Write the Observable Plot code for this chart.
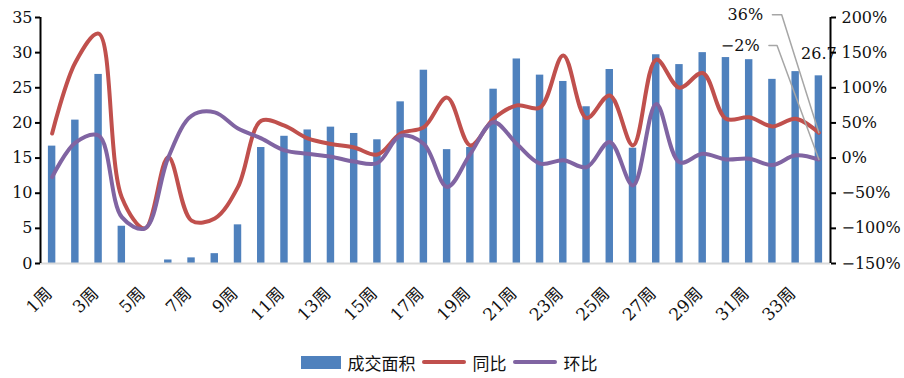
<!DOCTYPE html>
<html>
<head>
<meta charset="utf-8">
<script src="https://cdn.jsdelivr.net/npm/d3@7"></script>
<script src="https://cdn.jsdelivr.net/npm/@observablehq/plot@0.6"></script>
<style>
  body { margin: 0; background: #fff; }
  #chart svg { display: block; }
  .legend { display: flex; justify-content: center; align-items: center; margin-top: 17px; height: 20px;
    font-family: 'Noto Sans CJK SC', sans-serif; font-size: 17px; color: #111; }
  .legend .sw { display: inline-block; margin-right: 7px; }
  .legend .item { display: flex; align-items: center; margin-right: 6px; }
</style>
</head>
<body>
<div id="chart"></div>
<div class="legend">
  <span class="item"><span class="sw" style="width:40px;height:13px;background:#4f81bd"></span>成交面积</span>
  <span class="item"><span class="sw" style="width:44px;height:4px;border-radius:2px;background:#c0504d"></span>同比</span>
  <span class="item"><span class="sw" style="width:44px;height:4px;border-radius:2px;background:#8064a2"></span>环比</span>
</div>
<script>
const weeks = d3.range(1, 35);
const area = [16.7,20.4,26.9,5.3,0,0.5,0.8,1.4,5.5,16.5,18.1,19.0,19.4,18.5,17.6,23.0,27.5,16.2,16.5,24.8,29.1,26.8,25.9,22.3,27.6,16.4,29.7,28.3,30.0,29.3,29.0,26.2,27.3,26.7];
const yoy = [35,136,177,-56,-100,1,-89,-86,-41,53,46,28,20,15,5,35,44,86,18,56,75,72,146,57,89,18,140,100,121,56,58,45,56,36];
const mom = [-27,22,32,-84,-100,1,60,65,42,28,11,6,2,-5,-7,32,20,-41,6,51,20,-8,-3,-13,23,-39,77,-6,6,-2,-1,-10,4,-2];
const leftTicks = [0,5,10,15,20,25,30,35];
const rightTicks = [-150,-100,-50,0,50,100,150,200];
const xTickWeeks = weeks.filter(w => w % 2 === 1);

// map percent (right axis) into left-axis units
const pct = p => (p + 150) / 10;
const fmtPct = p => (p < 0 ? "\u2212" + (-p) : p) + "%";

const data = weeks.map((w, i) => ({w, area: area[i], yoy: yoy[i], mom: mom[i]}));
const last = data[data.length - 1];
const nWeeks = weeks.length;

// leader-line annotations for the last week
const annos = [
  {label: fmtPct(last.yoy), v: pct(last.yoy), tx: nWeeks - 2.4, ty: 35.4, lx1: nWeeks - 2.0, lx2: nWeeks - 1.6},
  {label: fmtPct(last.mom), v: pct(last.mom), tx: nWeeks - 2.55, ty: 31.0, lx1: nWeeks - 2.15, lx2: nWeeks - 1.8}
];
const leaders = annos.flatMap((a, k) => [
  {k, x: a.lx1, y: a.ty}, {k, x: a.lx2, y: a.ty}, {k, x: nWeeks, y: a.v}
]);

const font = "'DejaVu Serif', 'Noto Sans CJK SC', serif";

const chart = Plot.plot({
  width: 904,
  height: 335,
  marginTop: 17,
  marginLeft: 40,
  marginRight: 74,
  marginBottom: 72,
  style: {fontFamily: font, fontSize: "16px", color: "#111", background: "#fff"},
  x: {type: "linear", domain: [0.5, nWeeks + 0.5], axis: null},
  y: {domain: [0, 35], axis: null},
  marks: [
    Plot.rectY(data, {x1: d => d.w - 0.16, x2: d => d.w + 0.16, y1: 0, y2: "area", fill: "#4f81bd"}),
    Plot.ruleY([0], {stroke: "#d9d9d9", strokeWidth: 2}),
    Plot.line(data, {x: "w", y: d => pct(d.yoy), stroke: "#c0504d", strokeWidth: 4, curve: "catmull-rom"}),
    Plot.line(data, {x: "w", y: d => pct(d.mom), stroke: "#8064a2", strokeWidth: 4, curve: "catmull-rom"}),
    Plot.line(leaders, {x: "x", y: "y", z: "k", stroke: "#a6a6a6", strokeWidth: 1.5}),
    Plot.text(annos, {x: "tx", y: "ty", text: "label", textAnchor: "end", fill: "#111", fontSize: 16}),
    Plot.text([last], {x: "w", y: "area", text: d => String(d.area), dy: -22, fill: "#111", fontSize: 16}),
    Plot.ruleX([0.5], {y1: 0, y2: 35, stroke: "#000", strokeWidth: 2}),
    Plot.ruleX([nWeeks + 0.5], {y1: 0, y2: 35, stroke: "#000", strokeWidth: 2}),
    Plot.axisY({ticks: leftTicks, anchor: "left", tickSize: 5, tickPadding: 3, strokeWidth: 2, stroke: "#000", fill: "#111", fontSize: 16}),
    Plot.axisY({ticks: leftTicks, anchor: "right", tickSize: 5, tickPadding: 6, strokeWidth: 2, stroke: "#000", fill: "#111", fontSize: 16,
      tickFormat: (d, i) => fmtPct(rightTicks[i])}),
    Plot.axisX({ticks: xTickWeeks, anchor: "bottom", tickSize: 0, tickPadding: 27, tickRotate: -45, fill: "#111", fontSize: 17,
      dx: -3, tickFormat: d => d + "周"})
  ]
});
document.getElementById("chart").append(chart);
</script>
</body>
</html>
